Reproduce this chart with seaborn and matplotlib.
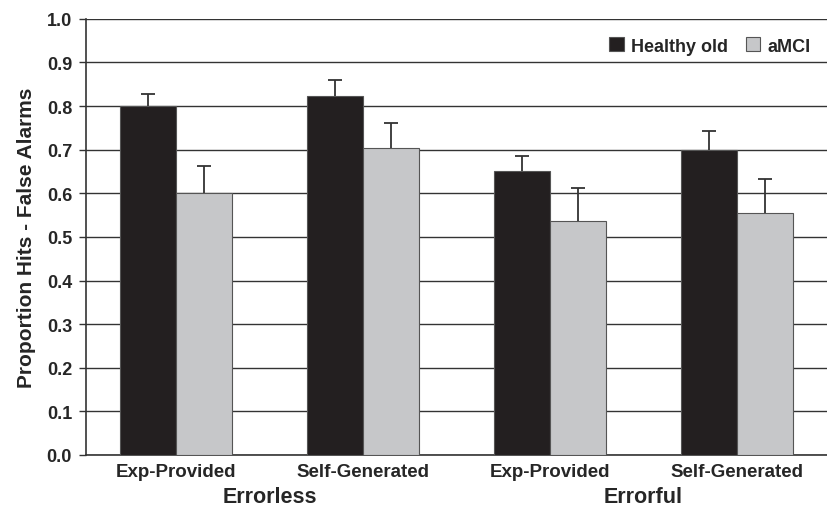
import numpy as np
import pandas as pd
import matplotlib
matplotlib.use("Agg")
import matplotlib.pyplot as plt
import seaborn as sns

# data
conditions = ["Exp-Provided", "Self-Generated", "Exp-Provided ", "Self-Generated "]
tick_labels = ["Exp-Provided", "Self-Generated", "Exp-Provided", "Self-Generated"]
groups = ["Healthy old", "aMCI"]
healthy = [0.800, 0.823, 0.651, 0.700]
amci = [0.601, 0.704, 0.537, 0.555]
healthy_err = [0.028, 0.037, 0.035, 0.043]
amci_err = [0.062, 0.057, 0.076, 0.078]
conditions_top = ["Errorless", "Errorful"]

df = pd.DataFrame({
    "condition": conditions * 2,
    "group": [groups[0]] * 4 + [groups[1]] * 4,
    "value": healthy + amci,
})

sns.set_style("white")
plt.rcParams["font.family"] = ["Liberation Sans", "DejaVu Sans"]
plt.rcParams["font.weight"] = "bold"

fig = plt.figure(figsize=(8.27, 5.10), dpi=100)
ax = fig.add_axes([0.104, 0.106, 0.896, 0.855])

palette = {"Healthy old": "#231f20", "aMCI": "#c6c7c9"}
sns.barplot(data=df, x="condition", y="value", hue="group", order=conditions,
            hue_order=groups, palette=palette, width=0.6, errorbar=None,
            edgecolor="#555555", linewidth=0.8, saturation=1, ax=ax, zorder=3)

# error bars (upper only) placed on the bars seaborn drew
errs = [healthy_err, amci_err]
bar_conts = list(ax.containers)
for i, cont in enumerate(bar_conts):
    xs = [p.get_x() + p.get_width() / 2 for p in cont]
    ys = [p.get_height() for p in cont]
    eb = ax.errorbar(xs, ys, yerr=[np.zeros(len(ys)), errs[i]], fmt="none",
                     ecolor="#333333", elinewidth=1.3, capsize=5, capthick=1.3, zorder=4)
    eb[1][0].set_visible(False)  # no lower cap

ax.set_ylim(0, 1.0)
ax.set_yticks(np.arange(0, 1.01, 0.1))
ax.set_yticklabels([f"{v:.1f}" for v in np.arange(0, 1.01, 0.1)], fontsize=13, fontweight="bold")
ax.set_xticks(range(4))
ax.set_xticklabels(tick_labels, fontsize=13.5, fontweight="bold")
ax.tick_params(axis="x", length=0, pad=6)
ax.tick_params(axis="y", length=5, width=1, color="#333333", direction="out", pad=5, left=True)
ax.yaxis.grid(True, color="#333333", linewidth=1.0, zorder=0)
ax.set_axisbelow(True)

for s in ["top", "right"]:
    ax.spines[s].set_visible(False)
for s in ["left", "bottom"]:
    ax.spines[s].set_color("#333333")
    ax.spines[s].set_linewidth(1.2)

ax.set_xlabel("")
ax.set_ylabel("Proportion Hits - False Alarms", fontsize=15, fontweight="bold", labelpad=8)

# second-level labels
for j, lab in enumerate(conditions_top):
    ax.text(2 * j + 0.5, -0.095, lab, transform=ax.get_xaxis_transform(),
            ha="center", va="center", fontsize=15.5, fontweight="bold")

leg = ax.legend(loc="upper right", bbox_to_anchor=(1.0, 0.995), ncol=2, frameon=False,
                handlelength=0.8, handleheight=0.8, handletextpad=0.4, columnspacing=1.0,
                prop={"weight": "bold", "size": 13})

fig.savefig("out.png", dpi=100)
